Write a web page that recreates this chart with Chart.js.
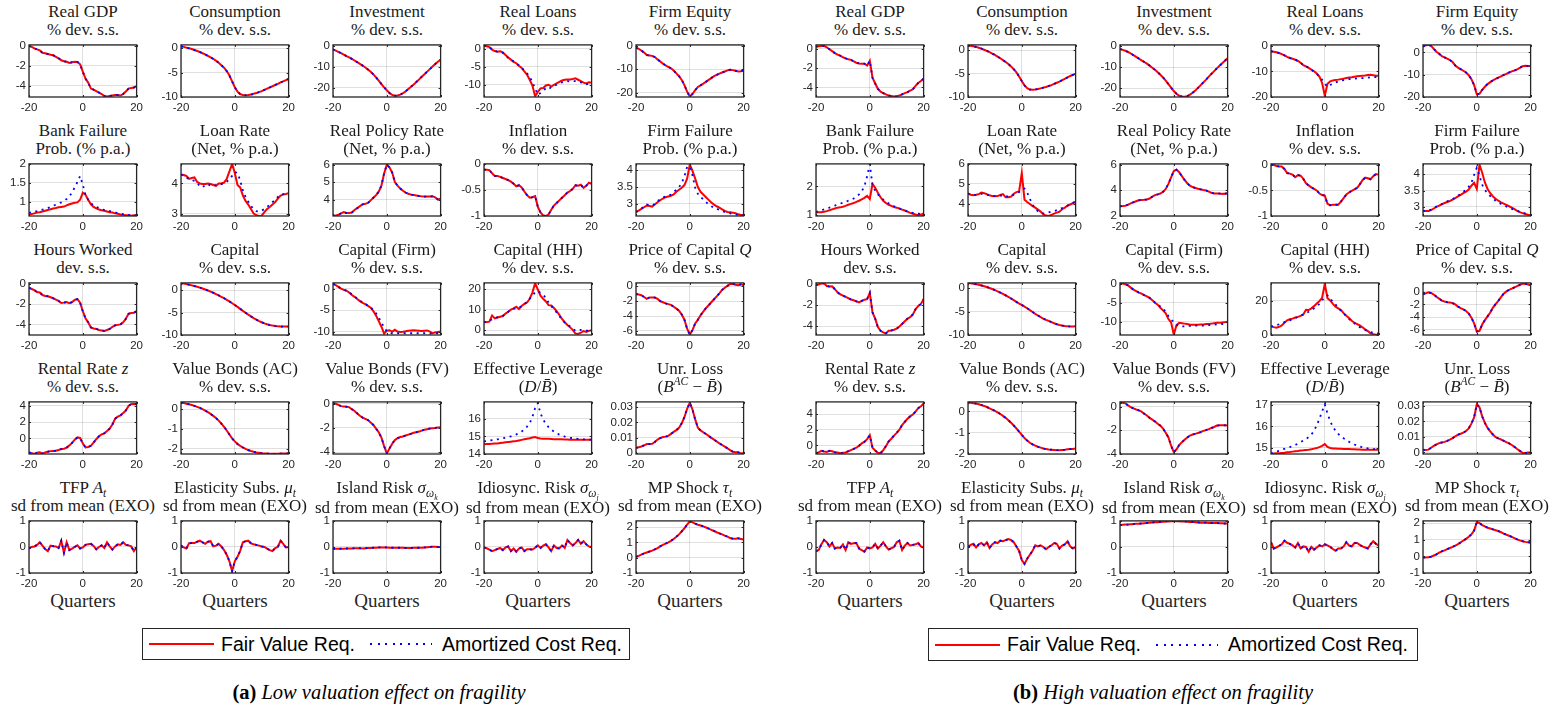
<!DOCTYPE html>
<html>
<head>
<meta charset="utf-8">
<script src="https://cdn.jsdelivr.net/npm/chart.js@4.4.1/dist/chart.umd.min.js"></script>
<style>
  body { margin: 0; background: #fff; width: 1553px; height: 713px; position: relative; overflow: hidden; font-family: "Liberation Serif", "DejaVu Serif", serif; }
  canvas { position: absolute; }
  .ttl { position: absolute; width: 170px; text-align: center; font-family: "Liberation Serif", "DejaVu Serif", serif; font-weight: normal; font-size: 17px; line-height: 18px; white-space: nowrap; color: #1a1a1a; }
  .ttl sub, .ttl sup { font-size: 0.68em; line-height: 0; }
  .xl { position: absolute; width: 120px; text-align: center; font-family: "Liberation Serif", "DejaVu Serif", serif; font-size: 19px; line-height: 22px; color: #262626; }
  .legend { position: absolute; border: 1px solid #262626; box-sizing: border-box; display: flex; align-items: center; font-family: "Liberation Sans", sans-serif; font-size: 19.5px; background: #fff; }
  .ls { display: inline-block; height: 2px; }
  .ls.red { width: 65px; background: #ff0000; margin: 0 7px 0 6px; }
  .ls.blue { width: 62px; background: repeating-linear-gradient(to right, #0000ff 0 2px, transparent 2px 7.6px); margin: 0 10px 0 15px; }
  .cap { position: absolute; width: 500px; text-align: center; font-family: "Liberation Serif", "DejaVu Serif", serif; font-size: 20.5px; line-height: 24px; }
</style>
</head>
<body>
<div class="legend" style="left:142px;top:628px;width:488px;height:32px"><span class="ls red"></span><span>Fair Value Req.</span><span class="ls blue"></span><span>Amortized Cost Req.</span></div>
<div class="legend" style="left:928px;top:628px;width:490px;height:33px"><span class="ls red"></span><span>Fair Value Req.</span><span class="ls blue"></span><span>Amortized Cost Req.</span></div>
<div class="cap" style="left:129px;top:680px"><b>(a)</b> <i>Low valuation effect on fragility</i></div>
<div class="cap" style="left:913px;top:680px"><b>(b)</b> <i>High valuation effect on fragility</i></div>
<script>
const quarters = [-20,-19,-18,-17,-16,-15,-14,-13,-12,-11,-10,-9,-8,-7,-6,-5,-4,-3,-2,-1,0,1,2,3,4,5,6,7,8,9,10,11,12,13,14,15,16,17,18,19,20];
const xTicks = [-20, 0, 20];

// (a) low valuation effect
const gdpA = [0,-0.1,-0.25,-0.35,-0.45,-0.7,-0.75,-0.82,-0.9,-0.95,-1.1,-1.25,-1.45,-1.55,-1.6,-1.72,-1.65,-1.6,-1.62,-1.85,-2.6,-3.3,-3.7,-4.3,-4.4,-4.55,-4.7,-4.85,-5.05,-5.1,-5.05,-5.0,-4.95,-4.95,-5.0,-4.85,-4.6,-4.3,-4.25,-4.2,-4.05];
const consA = [0.35,0.25,0.1,-0.05,-0.2,-0.4,-0.6,-0.8,-1.05,-1.3,-1.6,-1.9,-2.2,-2.6,-3.0,-3.5,-4.0,-4.7,-5.6,-6.8,-8.0,-8.9,-9.4,-9.6,-9.65,-9.6,-9.5,-9.35,-9.2,-9.0,-8.8,-8.55,-8.3,-8.05,-7.8,-7.55,-7.3,-7.0,-6.8,-6.55,-6.3];
const invA = [-1.7,-2.3,-2.9,-3.5,-4.2,-4.9,-5.5,-6.2,-7.0,-7.8,-8.6,-9.4,-10.3,-11.3,-12.4,-13.6,-15.0,-16.6,-18.2,-19.8,-21.2,-22.5,-23.4,-23.8,-23.7,-23.3,-22.6,-21.7,-20.6,-19.5,-18.4,-17.2,-16.0,-14.7,-13.5,-12.3,-11.1,-9.9,-8.7,-7.6,-6.6];
const loansA_fv = [0.9,0.7,0.5,-0.2,-0.6,-0.8,-0.7,-1.0,-1.7,-2.4,-3.0,-3.6,-4.0,-4.7,-5.3,-6.3,-7.2,-8.6,-10.2,-13.2,-12.0,-11.0,-10.9,-10.2,-10.0,-10.5,-10.0,-9.6,-9.2,-8.8,-8.6,-8.5,-8.5,-8.4,-8.2,-8.6,-9.0,-9.4,-9.6,-9.3,-9.4];
const loansA_ac = [0.9,0.7,0.4,-0.1,-0.6,-0.8,-0.9,-1.1,-1.8,-2.5,-3.0,-3.5,-4.1,-4.6,-5.3,-6.0,-6.8,-7.8,-9.3,-11.0,-12.8,-12.3,-11.6,-11.0,-11.3,-10.6,-10.3,-10.0,-9.6,-9.3,-9.1,-9.0,-9.1,-9.0,-9.0,-9.1,-9.3,-9.6,-9.9,-9.7,-9.5];
const equityA = [-0.8,-1.3,-2.0,-2.9,-3.9,-4.1,-4.3,-4.8,-5.8,-6.7,-7.6,-8.4,-9.0,-9.6,-10.6,-11.8,-13.0,-14.6,-16.8,-19.6,-21.7,-20.6,-19.0,-17.6,-16.9,-16.2,-15.4,-14.6,-13.8,-13.0,-12.4,-11.9,-11.4,-11.0,-10.5,-10.2,-10.4,-10.7,-11.0,-10.9,-10.5];
const bankFailA_fv = [0.66,0.67,0.69,0.71,0.72,0.74,0.76,0.78,0.80,0.82,0.83,0.85,0.86,0.87,0.90,0.93,0.95,0.97,0.98,1.05,1.24,1.18,1.05,0.93,0.86,0.82,0.79,0.77,0.76,0.74,0.72,0.71,0.69,0.68,0.66,0.65,0.64,0.64,0.63,0.64,0.63];
const bankFailA_ac = [0.70,0.72,0.74,0.75,0.77,0.79,0.81,0.83,0.86,0.89,0.92,0.95,0.98,1.02,1.07,1.14,1.24,1.38,1.52,1.68,1.45,1.18,1.05,0.96,0.90,0.86,0.83,0.80,0.78,0.77,0.75,0.73,0.71,0.70,0.68,0.67,0.66,0.65,0.64,0.64,0.64];
const loanRateA_fv = [4.3,4.28,4.25,4.15,4.18,4.2,4.05,4.0,3.98,3.98,4.0,3.98,3.95,3.92,4.0,4.0,4.03,4.15,4.4,4.65,4.35,3.95,3.87,3.6,3.42,3.3,3.15,3.0,2.95,2.92,2.93,3.05,3.15,3.22,3.3,3.38,3.5,3.6,3.63,3.65,3.68];
const loanRateA_ac = [4.3,4.25,4.2,4.15,4.12,4.08,4.0,3.92,3.87,3.95,3.98,3.92,3.92,3.95,3.98,3.98,4.0,4.05,4.15,4.25,4.38,4.35,4.1,3.78,3.55,3.4,3.25,3.15,3.08,3.07,3.1,3.15,3.22,3.3,3.38,3.45,3.55,3.62,3.65,3.67,3.68];
const policyA = [3.07,3.08,3.12,3.2,3.28,3.22,3.22,3.25,3.4,3.5,3.62,3.72,3.75,3.8,3.95,4.1,4.25,4.45,4.8,5.5,6.0,5.85,5.55,5.0,4.8,4.63,4.5,4.4,4.33,4.28,4.26,4.23,4.2,4.18,4.17,4.17,4.17,4.18,4.12,4.0,4.05];
const inflA = [-0.11,-0.11,-0.12,-0.18,-0.23,-0.23,-0.25,-0.27,-0.29,-0.31,-0.34,-0.38,-0.43,-0.41,-0.45,-0.53,-0.6,-0.65,-0.64,-0.62,-0.82,-0.93,-0.99,-1.0,-0.97,-0.88,-0.8,-0.75,-0.7,-0.65,-0.6,-0.55,-0.52,-0.48,-0.41,-0.42,-0.4,-0.46,-0.42,-0.36,-0.38];
const firmFailA_fv = [2.76,2.8,2.85,2.9,2.95,2.94,2.92,2.98,3.05,3.11,3.16,3.2,3.22,3.24,3.28,3.36,3.42,3.48,3.56,3.75,4.17,3.98,3.75,3.5,3.36,3.28,3.2,3.12,3.04,2.98,2.93,2.89,2.84,2.79,2.76,2.75,2.74,2.72,2.69,2.67,2.67];
const firmFailA_ac = [2.76,2.8,2.86,2.92,2.98,2.96,2.95,3.0,3.08,3.14,3.19,3.22,3.24,3.28,3.35,3.42,3.5,3.62,3.82,4.1,4.12,3.85,3.48,3.3,3.2,3.14,3.06,2.98,2.93,2.89,2.86,2.82,2.79,2.76,2.74,2.72,2.7,2.68,2.67,2.66,2.66];
const hoursA = [-0.38,-0.5,-0.62,-0.8,-0.85,-1.1,-1.2,-1.22,-1.32,-1.42,-1.55,-1.68,-1.88,-1.85,-1.8,-1.9,-1.8,-1.58,-1.5,-1.85,-2.7,-3.4,-3.8,-4.3,-4.4,-4.45,-4.55,-4.6,-4.65,-4.55,-4.45,-4.25,-4.1,-4.05,-4.0,-3.8,-3.45,-2.95,-2.88,-2.85,-2.7];
const capitalA = [1.6,1.5,1.38,1.25,1.1,0.95,0.78,0.6,0.4,0.18,-0.05,-0.3,-0.56,-0.84,-1.13,-1.45,-1.78,-2.13,-2.5,-2.9,-3.3,-3.72,-4.15,-4.6,-5.03,-5.45,-5.85,-6.22,-6.57,-6.88,-7.15,-7.4,-7.6,-7.77,-7.9,-8.0,-8.07,-8.1,-8.12,-8.12,-8.1];
const capFirmA_fv = [1.1,0.8,0.4,0.0,-0.3,-0.5,-0.9,-1.5,-1.9,-2.4,-2.9,-3.3,-3.6,-4.0,-4.4,-5.2,-6.2,-7.5,-8.8,-10.4,-9.7,-9.6,-9.9,-9.5,-9.9,-10.0,-9.95,-9.85,-9.7,-9.65,-9.6,-9.65,-9.7,-9.75,-9.7,-9.65,-9.9,-10.3,-10.1,-10.0,-9.9];
const capFirmA_ac = [1.1,0.8,0.4,0.0,-0.2,-0.5,-0.9,-1.3,-1.8,-2.3,-2.8,-3.2,-3.5,-4.0,-4.3,-5.0,-5.7,-6.7,-7.8,-9.0,-9.8,-10.2,-10.3,-10.3,-10.3,-10.35,-10.3,-10.3,-10.3,-10.3,-10.3,-10.3,-10.3,-10.3,-10.3,-10.3,-10.4,-10.4,-10.3,-10.3,-10.3];
const capHHA_fv = [3.9,4.0,4.2,7.2,5.8,6.2,6.6,6.9,8.1,9.0,10.0,10.6,11.4,10.3,11.8,12.8,13.5,15.3,18.3,22.8,19.8,16.8,15.3,14.0,12.2,12.0,10.8,9.3,7.5,5.5,3.9,2.6,1.4,0.2,-1.6,-1.8,-1.2,-0.4,-0.8,-0.3,0.0];
const capHHA_ac = [3.9,4.2,4.7,5.3,5.9,6.3,6.6,7.0,8.0,9.0,9.8,10.4,10.9,11.2,11.5,12.5,14.0,15.4,16.6,18.5,19.0,18.2,17.2,15.8,13.5,11.8,10.2,8.6,6.9,5.2,3.8,2.8,1.8,0.8,-0.2,-0.3,0.2,0.3,-0.1,-0.3,-0.3];
const priceQA = [-1.05,-1.1,-1.2,-1.45,-1.7,-1.5,-1.5,-1.52,-1.7,-2.0,-2.15,-2.3,-2.4,-2.5,-2.75,-3.0,-3.3,-3.8,-4.5,-5.7,-6.5,-5.9,-5.0,-4.5,-3.9,-3.4,-2.95,-2.55,-2.15,-1.75,-1.35,-0.95,-0.5,-0.2,0.05,0.3,0.32,0.2,0.15,0.25,0.15];
const rentalA = [-1.72,-1.8,-1.88,-1.75,-1.7,-1.85,-1.7,-1.62,-1.55,-1.52,-1.5,-1.42,-1.3,-1.25,-1.12,-0.85,-0.55,-0.15,0.12,0.05,-0.6,-1.1,-1.05,-0.9,-0.5,-0.1,0.25,0.5,0.62,0.9,1.2,1.7,2.4,2.65,2.8,3.1,3.4,3.95,4.2,4.22,4.2];
const bondsAcA = [0.34,0.31,0.28,0.25,0.21,0.17,0.12,0.07,0.0,-0.07,-0.15,-0.24,-0.34,-0.45,-0.58,-0.73,-0.9,-1.08,-1.28,-1.48,-1.63,-1.76,-1.86,-1.94,-2.01,-2.07,-2.12,-2.16,-2.19,-2.21,-2.23,-2.24,-2.25,-2.26,-2.26,-2.26,-2.26,-2.25,-2.25,-2.24,-2.24];
const bondsFvA = [0.05,0.0,-0.1,-0.2,-0.22,-0.25,-0.28,-0.45,-0.6,-0.8,-1.0,-1.15,-1.25,-1.35,-1.55,-1.75,-2.05,-2.35,-2.8,-3.5,-4.1,-3.7,-3.3,-3.0,-2.85,-2.75,-2.7,-2.62,-2.55,-2.48,-2.4,-2.35,-2.3,-2.22,-2.15,-2.1,-2.05,-2.02,-2.0,-1.97,-1.95];
const levA_fv = [14.55,14.56,14.57,14.58,14.59,14.6,14.62,14.64,14.66,14.68,14.7,14.72,14.74,14.77,14.8,14.83,14.86,14.89,14.93,14.96,14.9,14.88,14.87,14.87,14.86,14.85,14.84,14.84,14.83,14.83,14.82,14.82,14.81,14.81,14.81,14.81,14.81,14.81,14.81,14.8,14.8];
const levA_ac = [14.72,14.74,14.76,14.78,14.8,14.83,14.86,14.89,14.92,14.96,15.0,15.05,15.11,15.18,15.27,15.4,15.55,15.75,16.1,16.6,16.88,16.3,15.95,15.7,15.52,15.38,15.27,15.18,15.1,15.04,14.99,14.95,14.92,14.9,14.88,14.86,14.84,14.83,14.82,14.81,14.81];
const unrLossA = [0.0033,0.0037,0.0042,0.005,0.0058,0.0058,0.006,0.0072,0.0088,0.0097,0.0104,0.0107,0.0112,0.0125,0.0138,0.015,0.0165,0.0195,0.0235,0.029,0.033,0.0285,0.022,0.0165,0.0148,0.0136,0.0124,0.0112,0.0099,0.0087,0.0075,0.0063,0.0052,0.0041,0.003,0.0018,0.0008,0.0004,0.0004,-0.0003,-0.0002];
const tfpA = [-0.06,0.0,0.02,0.08,0.18,0.05,-0.08,-0.16,0.05,0.03,0.02,-0.04,0.24,-0.22,0.18,-0.12,-0.06,0.0,0.06,-0.06,-0.02,0.08,0.1,0.12,0.04,-0.09,0.0,0.06,-0.04,0.18,0.02,-0.1,0.02,0.1,0.08,0.18,0.08,0.06,0.02,-0.16,-0.02];
const elastA = [0.06,-0.02,-0.06,0.14,0.15,0.15,0.2,0.24,0.18,0.12,0.2,0.22,0.02,0.05,0.12,0.02,-0.12,-0.3,-0.55,-0.93,-0.55,-0.38,-0.15,0.18,0.22,0.24,0.14,0.1,0.08,0.05,0.02,0.0,-0.06,-0.12,-0.16,-0.04,0.0,0.24,0.12,-0.02,0.0];
const islandA = [-0.07,-0.07,-0.07,-0.07,-0.07,-0.06,-0.06,-0.06,-0.05,-0.05,-0.05,-0.06,-0.05,-0.04,-0.04,-0.03,-0.03,-0.02,-0.02,-0.02,-0.02,-0.03,-0.03,-0.03,-0.03,-0.03,-0.03,-0.04,-0.04,-0.04,-0.03,-0.03,-0.03,-0.03,-0.02,-0.01,0.0,0.01,0.01,0.0,0.0];
const idioA = [-0.02,-0.05,-0.1,-0.16,-0.12,-0.08,-0.04,-0.12,-0.02,0.02,-0.16,-0.06,-0.18,-0.06,-0.02,-0.16,-0.09,-0.09,-0.1,-0.03,0.06,-0.04,0.05,0.1,-0.02,-0.16,0.06,-0.04,-0.06,0.06,-0.04,0.27,0.15,0.06,0.15,0.27,0.12,0.22,0.1,0.02,0.0];
const mpA = [0.06,0.12,0.2,0.28,0.34,0.4,0.46,0.54,0.62,0.74,0.84,0.92,1.0,1.1,1.22,1.36,1.52,1.72,1.92,2.15,2.37,2.3,2.22,2.15,2.1,2.04,1.97,1.9,1.82,1.74,1.66,1.59,1.52,1.44,1.37,1.28,1.24,1.24,1.26,1.22,1.18];

// (b) high valuation effect
const gdpB = [0.23,0.25,0.28,0.3,0.15,-0.05,-0.25,-0.45,-0.6,-0.72,-0.88,-1.0,-1.08,-1.15,-1.3,-1.45,-1.52,-1.55,-1.55,-1.75,-1.25,-3.0,-3.6,-4.15,-4.45,-4.6,-4.72,-4.85,-4.9,-4.95,-4.92,-4.85,-4.72,-4.6,-4.5,-4.35,-4.2,-3.85,-3.55,-3.35,-3.1];
const consB = [1.0,0.95,0.85,0.72,0.55,0.35,0.12,-0.12,-0.4,-0.7,-1.0,-1.35,-1.7,-2.1,-2.5,-2.95,-3.45,-4.05,-4.75,-5.6,-6.6,-7.5,-8.1,-8.4,-8.45,-8.4,-8.3,-8.15,-8.0,-7.85,-7.65,-7.45,-7.2,-6.95,-6.7,-6.4,-6.1,-5.8,-5.5,-5.25,-5.0];
const invB = [-1.5,-1.9,-2.3,-2.9,-3.6,-4.4,-5.2,-6.0,-6.8,-7.6,-8.4,-9.3,-10.3,-11.3,-12.4,-13.6,-14.9,-16.4,-18.0,-19.7,-21.3,-22.6,-23.5,-23.9,-24.0,-23.7,-23.0,-22.1,-21.0,-19.8,-18.5,-17.2,-15.9,-14.5,-13.2,-11.9,-10.6,-9.4,-8.2,-7.0,-5.8];
const loansB_fv = [-2.1,-2.3,-2.5,-2.8,-3.2,-3.7,-4.3,-4.7,-5.0,-5.4,-5.9,-6.6,-7.5,-8.0,-8.6,-9.3,-9.9,-10.8,-12.0,-14.5,-19.5,-14.8,-13.9,-13.5,-13.3,-13.2,-13.0,-12.8,-12.6,-12.4,-12.3,-12.1,-11.9,-11.8,-11.7,-11.6,-11.4,-11.3,-11.5,-11.7,-11.7];
const loansB_ac = [-2.1,-2.3,-2.5,-2.8,-3.2,-3.7,-4.3,-4.7,-5.0,-5.4,-5.9,-6.6,-7.5,-8.0,-8.6,-9.4,-10.1,-11.0,-12.0,-13.3,-14.8,-16.0,-15.3,-14.8,-14.3,-13.9,-13.6,-13.4,-13.2,-13.0,-12.9,-12.8,-12.7,-12.6,-12.6,-12.5,-12.4,-12.3,-12.2,-12.2,-12.3];
const equityB = [2.7,3.2,3.4,3.0,1.6,0.3,-0.6,-1.6,-2.2,-2.8,-3.4,-4.3,-5.9,-6.8,-7.5,-8.2,-9.0,-10.2,-12.0,-14.6,-18.8,-18.6,-16.8,-15.4,-14.2,-13.3,-12.5,-11.9,-11.3,-10.7,-10.1,-9.6,-9.0,-8.5,-8.1,-7.6,-6.9,-6.2,-6.0,-6.1,-6.1];
const bankFailB_fv = [1.09,1.1,1.1,1.12,1.14,1.17,1.2,1.23,1.26,1.27,1.29,1.32,1.36,1.39,1.42,1.46,1.5,1.55,1.6,1.67,1.56,2.08,1.95,1.78,1.62,1.5,1.42,1.36,1.32,1.28,1.26,1.23,1.19,1.16,1.12,1.08,1.05,1.02,1.0,1.02,1.06];
const bankFailB_ac = [1.11,1.14,1.17,1.2,1.23,1.26,1.29,1.33,1.37,1.4,1.43,1.46,1.5,1.53,1.58,1.64,1.72,1.83,2.0,2.35,2.76,2.05,1.85,1.72,1.62,1.54,1.47,1.41,1.36,1.31,1.27,1.23,1.19,1.16,1.13,1.1,1.08,1.06,1.05,1.04,1.03];
const loanRateB_fv = [4.51,4.45,4.43,4.45,4.48,4.56,4.52,4.48,4.42,4.38,4.37,4.38,4.44,4.48,4.32,4.32,4.35,4.5,4.58,4.62,5.54,4.2,4.08,3.98,3.88,3.8,3.7,3.6,3.46,3.4,3.38,3.44,3.5,3.55,3.6,3.72,3.8,3.9,3.96,4.02,4.11];
const loanRateB_ac = [4.51,4.45,4.43,4.45,4.48,4.5,4.48,4.45,4.42,4.4,4.38,4.38,4.4,4.42,4.38,4.35,4.38,4.45,4.52,4.58,4.72,4.76,4.56,4.25,3.95,3.75,3.62,3.55,3.51,3.52,3.56,3.6,3.63,3.67,3.72,3.78,3.84,3.9,3.97,4.04,4.11];
const policyB = [2.75,2.77,2.8,2.88,2.98,3.07,3.15,3.22,3.25,3.26,3.28,3.36,3.5,3.62,3.68,3.75,3.88,4.1,4.5,5.0,5.5,5.6,5.4,5.1,4.8,4.55,4.35,4.25,4.18,4.12,4.07,4.02,3.98,3.9,3.8,3.75,3.74,3.74,3.72,3.73,3.78];
const inflB = [0.01,0.0,-0.02,-0.03,-0.03,-0.08,-0.16,-0.17,-0.19,-0.24,-0.2,-0.21,-0.27,-0.36,-0.4,-0.44,-0.47,-0.5,-0.56,-0.59,-0.6,-0.76,-0.79,-0.78,-0.78,-0.78,-0.72,-0.65,-0.58,-0.54,-0.51,-0.48,-0.45,-0.38,-0.3,-0.25,-0.26,-0.28,-0.22,-0.18,-0.19];
const firmFailB_fv = [2.88,2.87,2.87,2.9,2.95,3.0,3.04,3.08,3.12,3.15,3.18,3.22,3.27,3.32,3.37,3.42,3.47,3.53,3.65,3.74,3.55,4.3,4.05,3.75,3.55,3.42,3.32,3.25,3.19,3.14,3.1,3.06,3.02,2.98,2.93,2.88,2.84,2.81,2.78,2.76,2.74];
const firmFailB_ac = [2.88,2.87,2.88,2.92,2.96,3.01,3.05,3.09,3.13,3.17,3.2,3.24,3.29,3.34,3.4,3.46,3.53,3.62,3.74,3.98,4.2,3.95,3.68,3.52,3.42,3.33,3.26,3.19,3.14,3.09,3.05,3.01,2.97,2.94,2.91,2.88,2.85,2.82,2.8,2.78,2.75];
const hoursB = [-0.09,-0.05,0.05,0.06,-0.2,-0.24,-0.22,-0.5,-0.8,-0.98,-1.1,-1.22,-1.35,-1.48,-1.55,-1.65,-1.75,-1.6,-1.5,-1.45,-0.85,-2.7,-3.3,-4.1,-4.45,-4.6,-4.7,-4.45,-4.42,-4.35,-4.25,-4.05,-3.8,-3.55,-3.3,-3.15,-2.9,-2.4,-2.1,-1.9,-1.45];
const capitalB = [1.1,1.02,0.93,0.82,0.7,0.56,0.4,0.22,0.02,-0.2,-0.44,-0.7,-0.97,-1.26,-1.56,-1.88,-2.22,-2.58,-2.95,-3.33,-3.6,-3.95,-4.3,-4.7,-5.1,-5.5,-5.85,-6.2,-6.5,-6.78,-7.0,-7.25,-7.5,-7.7,-7.86,-7.98,-8.07,-8.13,-8.17,-8.17,-8.15];
const capFirmB_fv = [0.15,0.1,-0.1,-0.4,-1.0,-1.5,-1.9,-2.3,-2.6,-3.0,-3.3,-3.7,-4.3,-5.0,-5.5,-6.3,-7.0,-7.8,-9.3,-10.2,-13.4,-10.9,-10.3,-10.4,-10.5,-10.6,-10.8,-10.8,-10.8,-10.8,-10.7,-10.7,-10.6,-10.6,-10.5,-10.4,-10.3,-10.3,-10.2,-10.1,-10.0];
const capFirmB_ac = [0.15,0.1,-0.1,-0.4,-1.0,-1.5,-1.9,-2.3,-2.6,-3.0,-3.3,-3.7,-4.3,-4.9,-5.3,-6.0,-6.6,-7.4,-8.5,-9.4,-10.1,-10.8,-11.2,-11.2,-11.2,-11.1,-11.1,-11.0,-11.0,-11.0,-11.0,-11.0,-11.0,-10.9,-10.9,-10.8,-10.7,-10.7,-10.6,-10.5,-10.5];
const capHHB_fv = [5.0,4.6,4.3,4.8,5.6,7.2,8.6,9.2,9.6,10.2,10.6,11.2,12.0,14.8,14.6,15.6,16.9,18.4,19.8,21.8,30.0,21.5,20.2,18.2,16.6,15.6,14.6,12.8,11.3,9.9,8.3,7.2,6.4,5.6,4.5,3.3,2.3,1.0,0.5,0.2,0.1];
const capHHB_ac = [5.0,5.3,5.8,6.3,6.9,7.5,8.0,8.6,9.3,9.9,10.5,11.2,12.0,12.8,13.6,14.5,15.6,16.8,18.2,20.2,22.5,23.2,21.2,19.5,17.8,16.0,14.2,12.6,11.0,9.4,8.0,6.8,5.7,4.6,3.7,2.9,2.3,1.7,1.3,1.0,0.9];
const priceQB = [-0.4,-0.25,-0.1,-0.2,-0.45,-0.8,-1.1,-1.4,-1.55,-1.65,-1.72,-1.8,-2.0,-2.35,-2.6,-2.8,-3.05,-3.45,-4.1,-5.0,-6.3,-6.2,-5.2,-4.5,-3.9,-3.3,-2.5,-1.95,-1.45,-0.85,-0.3,0.05,0.3,0.5,0.7,0.9,1.1,1.25,1.25,1.15,1.0];
const rentalB = [-1.0,-0.9,-0.7,-0.78,-0.85,-0.7,-0.75,-0.88,-0.92,-1.0,-0.95,-0.9,-0.75,-0.6,-0.45,-0.3,-0.05,0.25,0.45,0.8,1.3,-0.3,-0.65,-0.95,-1.0,-0.6,-0.1,0.5,0.85,1.25,1.6,2.0,2.6,3.0,3.4,3.7,3.95,4.3,4.75,5.0,5.3];
const bondsAcB = [0.43,0.41,0.39,0.37,0.34,0.3,0.26,0.21,0.15,0.09,0.03,-0.04,-0.12,-0.21,-0.3,-0.41,-0.53,-0.66,-0.8,-0.95,-1.1,-1.25,-1.37,-1.47,-1.55,-1.61,-1.66,-1.7,-1.74,-1.77,-1.79,-1.8,-1.81,-1.82,-1.82,-1.81,-1.8,-1.78,-1.77,-1.76,-1.74];
const bondsFvB = [0.33,0.32,0.28,0.1,-0.05,-0.15,-0.24,-0.32,-0.42,-0.6,-0.75,-0.95,-1.1,-1.25,-1.45,-1.6,-1.85,-2.2,-2.6,-3.3,-3.85,-3.6,-3.25,-3.0,-2.8,-2.6,-2.45,-2.35,-2.3,-2.22,-2.15,-2.05,-1.98,-1.9,-1.8,-1.72,-1.6,-1.58,-1.58,-1.58,-1.6];
const levB_fv = [14.72,14.74,14.75,14.76,14.77,14.78,14.8,14.81,14.83,14.85,14.86,14.88,14.89,14.91,14.92,14.94,14.97,15.0,15.04,15.1,15.18,15.05,15.0,14.98,14.97,14.96,14.96,14.95,14.95,14.95,14.94,14.94,14.93,14.93,14.92,14.92,14.92,14.92,14.92,14.92,14.92];
const levB_ac = [14.74,14.79,14.84,14.87,14.92,14.96,15.0,15.04,15.09,15.14,15.2,15.27,15.34,15.42,15.5,15.62,15.8,16.05,16.35,16.7,17.02,16.6,16.25,15.98,15.8,15.65,15.55,15.45,15.37,15.29,15.22,15.16,15.11,15.07,15.03,15.0,14.98,14.96,14.95,14.95,14.95];
const unrLossB = [0.0017,0.0015,0.0018,0.003,0.0042,0.0052,0.006,0.0064,0.0068,0.0074,0.0082,0.0092,0.0104,0.0114,0.012,0.0127,0.0138,0.0155,0.0185,0.0225,0.031,0.029,0.0232,0.019,0.0158,0.0136,0.0115,0.0098,0.009,0.0083,0.0075,0.0066,0.0058,0.0048,0.0036,0.0022,0.001,-0.0002,-0.0004,-0.0001,0.0];
const tfpB = [-0.16,-0.12,0.1,0.27,0.18,0.02,0.15,-0.06,-0.02,-0.04,0.1,-0.12,0.18,0.12,0.14,0.15,-0.06,-0.12,-0.18,-0.02,-0.06,-0.02,0.12,-0.06,0.05,0.18,0.02,-0.1,-0.05,0.0,0.18,0.24,-0.12,0.05,0.15,0.06,0.08,0.1,0.15,0.02,-0.02];
const elastB = [0.0,0.08,0.12,-0.02,0.1,0.15,0.06,0.18,-0.04,0.1,0.18,0.15,0.24,0.22,0.26,0.3,0.27,0.18,0.02,-0.15,-0.5,-0.65,-0.45,-0.3,-0.15,0.06,0.02,0.06,0.0,-0.09,0.0,0.06,0.15,0.12,-0.06,0.05,0.1,0.22,0.02,-0.06,0.0];
const islandB = [0.84,0.85,0.86,0.86,0.87,0.88,0.89,0.89,0.9,0.91,0.92,0.93,0.94,0.95,0.95,0.96,0.97,0.98,0.98,0.99,1.0,0.99,0.99,0.98,0.98,0.97,0.96,0.96,0.95,0.94,0.93,0.93,0.93,0.92,0.92,0.92,0.92,0.91,0.91,0.9,0.9];
const idioB = [0.18,-0.06,-0.02,0.04,0.1,0.24,0.16,0.12,0.06,-0.02,0.15,-0.06,0.02,0.0,-0.18,0.0,-0.1,-0.02,0.06,0.02,0.1,0.06,0.0,-0.08,-0.15,-0.06,-0.06,0.02,0.18,0.06,0.02,0.15,0.15,0.08,0.02,-0.02,-0.06,0.1,0.22,0.12,0.06];
const mpB = [-0.06,-0.07,-0.05,-0.02,0.05,0.12,0.22,0.3,0.36,0.43,0.5,0.57,0.65,0.74,0.84,0.95,1.05,1.18,1.32,1.55,2.05,2.0,1.88,1.8,1.72,1.67,1.62,1.57,1.52,1.45,1.37,1.3,1.24,1.17,1.1,1.02,0.96,0.91,0.87,0.85,0.83];

const titles = [
  ["Real GDP", "% dev. s.s."], ["Consumption", "% dev. s.s."], ["Investment", "% dev. s.s."], ["Real Loans", "% dev. s.s."], ["Firm Equity", "% dev. s.s."],
  ["Bank Failure", "Prob. (% p.a.)"], ["Loan Rate", "(Net, % p.a.)"], ["Real Policy Rate", "(Net, % p.a.)"], ["Inflation", "% dev. s.s."], ["Firm Failure", "Prob. (% p.a.)"],
  ["Hours Worked", "dev. s.s."], ["Capital", "% dev. s.s."], ["Capital (Firm)", "% dev. s.s."], ["Capital (HH)", "% dev. s.s."], ["Price of Capital <i>Q</i>", "% dev. s.s."],
  ["Rental Rate <i>z</i>", "% dev. s.s."], ["Value Bonds (AC)", "% dev. s.s."], ["Value Bonds (FV)", "% dev. s.s."], ["Effective Leverage", "(<i>D</i>/<i>B&#772;</i>)"], ["Unr. Loss", "(<i>B</i><sup><i>AC</i></sup> &minus; <i>B&#772;</i>)"],
  ["TFP <i>A<sub>t</sub></i>", "sd from mean (EXO)"], ["Elasticity Subs. <i>&mu;<sub>t</sub></i>", "sd from mean (EXO)"], ["Island Risk <i>&sigma;<sub>&omega;<sub>k</sub></sub></i>", "sd from mean (EXO)"],
  ["Idiosync. Risk <i>&sigma;<sub>&omega;<sub>j</sub></sub></i>", "sd from mean (EXO)"], ["MP Shock <i>&tau;<sub>t</sub></i>", "sd from mean (EXO)"]
];

// [fair value, amortized cost]
const seriesA = [
  [gdpA, gdpA], [consA, consA], [invA, invA], [loansA_fv, loansA_ac], [equityA, equityA],
  [bankFailA_fv, bankFailA_ac], [loanRateA_fv, loanRateA_ac], [policyA, policyA], [inflA, inflA], [firmFailA_fv, firmFailA_ac],
  [hoursA, hoursA], [capitalA, capitalA], [capFirmA_fv, capFirmA_ac], [capHHA_fv, capHHA_ac], [priceQA, priceQA],
  [rentalA, rentalA], [bondsAcA, bondsAcA], [bondsFvA, bondsFvA], [levA_fv, levA_ac], [unrLossA, unrLossA],
  [tfpA, tfpA], [elastA, elastA], [islandA, islandA], [idioA, idioA], [mpA, mpA]
];
const seriesB = [
  [gdpB, gdpB], [consB, consB], [invB, invB], [loansB_fv, loansB_ac], [equityB, equityB],
  [bankFailB_fv, bankFailB_ac], [loanRateB_fv, loanRateB_ac], [policyB, policyB], [inflB, inflB], [firmFailB_fv, firmFailB_ac],
  [hoursB, hoursB], [capitalB, capitalB], [capFirmB_fv, capFirmB_ac], [capHHB_fv, capHHB_ac], [priceQB, priceQB],
  [rentalB, rentalB], [bondsAcB, bondsAcB], [bondsFvB, bondsFvB], [levB_fv, levB_ac], [unrLossB, unrLossB],
  [tfpB, tfpB], [elastB, elastB], [islandB, islandB], [idioB, idioB], [mpB, mpB]
];

// [y min, y max, y ticks]
const axesA = [
  [-5.15, 0.1, [-4, -2, 0]], [-10, 0.65, [-10, -5, 0]], [-24.4, 0.45, [-20, -10, 0]], [-13.4, 1.1, [-10, -5, 0]], [-21.9, 0.4, [-20, -10, 0]],
  [0.62, 2, [1, 1.5, 2]], [2.92, 4.65, [3, 4]], [3.05, 6.05, [4, 5, 6]], [-1, 0, [-1, -0.5, 0]], [2.64, 4.19, [3, 3.5, 4]],
  [-5.05, 0.1, [-4, -2, 0]], [-10, 1.65, [-10, -5, 0]], [-10.7, 1.3, [-10, -5, 0]], [-2.3, 23, [0, 10, 20]], [-6.55, 0.45, [-6, -4, -2, 0]],
  [-1.9, 4.45, [0, 2, 4]], [-2.27, 0.37, [-2, -1, 0]], [-4.15, 0.15, [-4, -2, 0]], [14, 16.95, [14, 15, 16]], [-0.0007, 0.0335, [0, 0.01, 0.02, 0.03]],
  [-1, 1, [-1, 0, 1]], [-1, 1, [-1, 0, 1]], [-1, 1, [-1, 0, 1]], [-1, 1, [-1, 0, 1]], [-1, 2.4, [-1, 0, 1, 2]]
];
const axesB = [
  [-5, 0.4, [-4, -2, 0]], [-10, 1.15, [-10, -5, 0]], [-24.1, 0.45, [-20, -10, 0]], [-20, 0.4, [-20, -10, 0]], [-20, 3.4, [-20, -10, 0]],
  [0.97, 2.78, [1, 2]], [3.38, 6, [4, 5, 6]], [2, 6.05, [2, 4, 6]], [-1, 0.02, [-1, -0.5, 0]], [2.72, 4.32, [3, 3.5, 4]],
  [-4.85, 0.1, [-4, -2, 0]], [-10, 1.1, [-10, -5, 0]], [-13.5, 0.25, [-10, -5, 0]], [0, 30.5, [0, 20]], [-6.85, 1.4, [-6, -4, -2, 0]],
  [-1.1, 5.55, [0, 2, 4]], [-2, 0.45, [-2, -1, 0]], [-4, 0.4, [-4, -2, 0]], [14.72, 17.14, [15, 16, 17]], [-0.001, 0.0325, [0, 0.01, 0.02, 0.03]],
  [-1, 1, [-1, 0, 1]], [-1, 1, [-1, 0, 1]], [-1, 1, [-1, 0, 1]], [-1, 1, [-1, 0, 1]], [-1, 2.13, [-1, 0, 1, 2]]
];

// layout of the subplot grid
const boxLeft = [29, 816];
const colStep = 151.75;
const boxTop = 43, rowStep = 119;
const boxW = 108, boxH = 54;
const padL = 44, padT = 8, padR = 10, padB = 20;
const tickColor = "#262626";
const gridColor = "rgba(38,38,38,0.15)";
const tickFont = { family: "Liberation Sans", size: 11.5 };

// matlab style axes box with small inward ticks
const boxPlugin = {
  id: "box",
  afterDraw(chart) {
    const { ctx, chartArea: a, scales } = chart;
    ctx.save();
    ctx.strokeStyle = tickColor;
    ctx.lineWidth = 1;
    ctx.beginPath();
    scales.y.ticks.forEach((t) => {
      const y = Math.round(scales.y.getPixelForValue(t.value)) + 0.5;
      ctx.moveTo(a.left, y); ctx.lineTo(a.left + 2, y);
      ctx.moveTo(a.right, y); ctx.lineTo(a.right - 2, y);
    });
    scales.x.ticks.forEach((t) => {
      const x = Math.round(scales.x.getPixelForValue(t.value)) + 0.5;
      ctx.moveTo(x, a.top); ctx.lineTo(x, a.top + 2);
      ctx.moveTo(x, a.bottom); ctx.lineTo(x, a.bottom - 2);
    });
    ctx.stroke();
    ctx.lineWidth = 1.3;
    ctx.strokeRect(a.left, a.top, a.right - a.left, a.bottom - a.top);
    ctx.restore();
  },
};

function points(values) {
  return quarters.map((q, i) => ({ x: q, y: values[i] }));
}

function makePlot(panel, i) {
  const r = Math.floor(i / 5), c = i % 5;
  const bx = Math.round(boxLeft[panel] + c * colStep);
  const by = boxTop + r * rowStep;

  const title = document.createElement("div");
  title.className = "ttl";
  title.style.left = bx + boxW / 2 - 85 + "px";
  title.style.top = by - 40 + "px";
  title.innerHTML = titles[i][0] + "<br>" + titles[i][1];
  document.body.appendChild(title);

  if (r === 4) {
    const xl = document.createElement("div");
    xl.className = "xl";
    xl.style.left = bx + boxW / 2 - 60 + "px";
    xl.style.top = by + 71 + "px";
    xl.textContent = "Quarters";
    document.body.appendChild(xl);
  }

  const cv = document.createElement("canvas");
  cv.width = padL + boxW + padR;
  cv.height = padT + boxH + padB;
  cv.style.left = bx - padL + "px";
  cv.style.top = by - padT + "px";
  document.body.appendChild(cv);

  const [fv, ac] = (panel ? seriesB : seriesA)[i];
  const [ymin, ymax, yTicks] = (panel ? axesB : axesA)[i];

  new Chart(cv, {
    type: "line",
    data: {
      datasets: [
        { label: "Amortized Cost Req.", data: points(ac), borderColor: "#0000ff", borderWidth: 1.8, borderDash: [2, 4.5], pointRadius: 0 },
        { label: "Fair Value Req.", data: points(fv), borderColor: "#ff0000", borderWidth: 2, pointRadius: 0 },
      ],
    },
    options: {
      responsive: false,
      animation: false,
      devicePixelRatio: 1,
      layout: { padding: { top: padT, right: padR, left: 0, bottom: 0 } },
      plugins: { legend: { display: false }, tooltip: { enabled: false } },
      scales: {
        x: {
          type: "linear", min: -20, max: 20,
          afterBuildTicks: (s) => { s.ticks = xTicks.map((v) => ({ value: v })); },
          afterFit: (s) => { s.height = padB; },
          grid: { color: gridColor, drawTicks: false },
          border: { display: false },
          ticks: { padding: 4, color: tickColor, font: tickFont, maxRotation: 0, autoSkip: false, callback: (v) => String(v) },
        },
        y: {
          min: ymin, max: ymax,
          afterBuildTicks: (s) => { s.ticks = yTicks.map((v) => ({ value: v })); },
          afterFit: (s) => { s.width = padL; },
          grid: { color: gridColor, drawTicks: false },
          border: { display: false },
          ticks: { padding: 3, color: tickColor, font: tickFont, autoSkip: false, callback: (v) => String(v) },
        },
      },
    },
    plugins: [boxPlugin],
  });
}

for (let p = 0; p < 2; p++) {
  for (let i = 0; i < 25; i++) makePlot(p, i);
}
</script>
</body>
</html>
